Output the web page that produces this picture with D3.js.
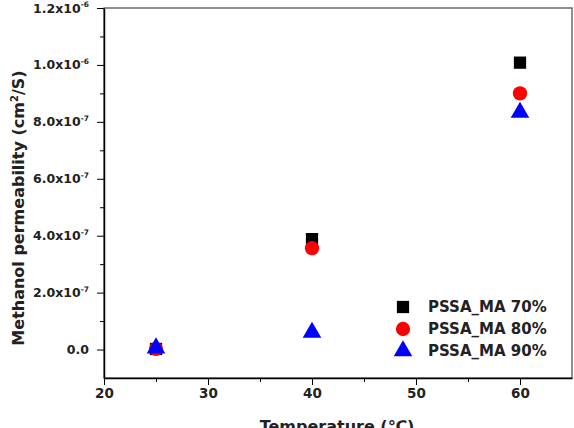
<!DOCTYPE html>
<html>
<head>
<meta charset="utf-8">
<script src="https://cdn.jsdelivr.net/npm/d3@7"></script>
<style>
  body { margin: 0; background: #fff; }
  svg text { font-family: "DejaVu Sans", Verdana, sans-serif; font-weight: bold; fill: #222; }
</style>
</head>
<body>
<div id="chart"></div>
<script>
// chart size
const width = 574;
const height = 428;
const margin = {left: 104, right: 2, top: 8, bottom: 50};

// data
const temps = [25, 40, 60];
const seriesNames = ["PSSA_MA 70%", "PSSA_MA 80%", "PSSA_MA 90%"];
const perm70 = [0.02e-7, 3.88e-7, 10.08e-7];
const perm80 = [0.02e-7, 3.56e-7, 9.0e-7];
const perm90 = [0.05e-7, 0.6e-7, 8.33e-7];
const xTicks = [20, 30, 40, 50, 60];
const yTicks = [0, 2e-7, 4e-7, 6e-7, 8e-7, 1.0e-6, 1.2e-6];

const colors = ["#000000", "#ff0000", "#0000ff"];
const shapes = [d3.symbolSquare, d3.symbolCircle, d3.symbolTriangle];
const sizes = [150, 160, 150];

const series = [perm70, perm80, perm90].map((vals, k) => ({
  name: seriesNames[k],
  points: vals.map((v, i) => ({t: temps[i], v: v}))
}));

const svg = d3.select("#chart")
  .append("svg")
  .attr("width", width)
  .attr("height", height);

// scales
const x = d3.scaleLinear()
  .domain([20, 65])
  .range([margin.left, width - margin.right]);

const y = d3.scaleLinear()
  .domain([-1e-7, 1.2e-6])
  .range([height - margin.bottom, margin.top]);

// frame top + right
svg.append("rect")
  .attr("x", margin.left)
  .attr("y", margin.top)
  .attr("width", width - margin.right - margin.left)
  .attr("height", height - margin.bottom - margin.top)
  .attr("fill", "none")
  .attr("stroke", "#555")
  .attr("stroke-width", 1.3);

// minor ticks
svg.append("g")
  .attr("transform", `translate(0,${height - margin.bottom})`)
  .call(d3.axisBottom(x).tickValues([25, 35, 45, 55]).tickSize(4).tickFormat(""))
  .call(g => g.select(".domain").remove());

svg.append("g")
  .attr("transform", `translate(${margin.left},0)`)
  .call(d3.axisLeft(y).tickValues([1e-7, 3e-7, 5e-7, 7e-7, 9e-7, 1.1e-6]).tickSize(4).tickFormat(""))
  .call(g => g.select(".domain").remove());

// x axis
svg.append("g")
  .attr("transform", `translate(0,${height - margin.bottom})`)
  .call(d3.axisBottom(x).tickValues(xTicks).tickSize(7).tickPadding(3).tickSizeOuter(0))
  .call(g => g.selectAll("text").attr("font-size", "13.5px"))
  .call(g => g.select(".domain").attr("stroke-width", 1.5));

// y axis with 10^n labels
svg.append("g")
  .attr("transform", `translate(${margin.left},0)`)
  .call(d3.axisLeft(y).tickValues(yTicks).tickSize(7).tickPadding(8).tickSizeOuter(0))
  .call(g => g.select(".domain").attr("stroke-width", 1.5))
  .call(g => g.selectAll(".tick text")
    .attr("font-size", "12.5px")
    .each(function(d) {
      const t = d3.select(this).text(null);
      if (d === 0) { t.text("0.0"); return; }
      const e = Math.floor(Math.log10(d) + 1e-9);
      const m = d / Math.pow(10, e);
      t.append("tspan").text(m.toFixed(1) + "x10");
      t.append("tspan").attr("font-size", "7.5px").attr("dy", "-0.7em").text(e);
    }));

// points
series.forEach((s, k) => {
  svg.append("g").selectAll("path")
    .data(s.points)
    .enter()
    .append("path")
    .attr("transform", d => `translate(${x(d.t)},${y(d.v)})`)
    .attr("d", d3.symbol().type(shapes[k]).size(sizes[k]))
    .attr("fill", colors[k]);
});

// legend
const legend = svg.append("g");
series.forEach((s, k) => {
  const ly = 307 + k * 22;
  legend.append("path")
    .attr("transform", `translate(403,${ly})`)
    .attr("d", d3.symbol().type(shapes[k]).size(sizes[k]))
    .attr("fill", colors[k]);
  legend.append("text")
    .attr("x", 428)
    .attr("y", ly)
    .attr("dy", "0.36em")
    .attr("font-size", "15px")
    .text(s.name);
});

// axis titles
svg.append("text")
  .attr("x", 337)
  .attr("y", 432)
  .attr("text-anchor", "middle")
  .attr("font-size", "16px")
  .text("Temperature (℃)");

const yt = svg.append("text")
  .attr("transform", `translate(24,208) rotate(-90)`)
  .attr("text-anchor", "middle")
  .attr("font-size", "16px");
yt.append("tspan").text("Methanol permeability (cm");
yt.append("tspan").attr("font-size", "10px").attr("dy", "-0.6em").text("2");
yt.append("tspan").attr("dy", "0.4em").text("/S)");
</script>
</body>
</html>
